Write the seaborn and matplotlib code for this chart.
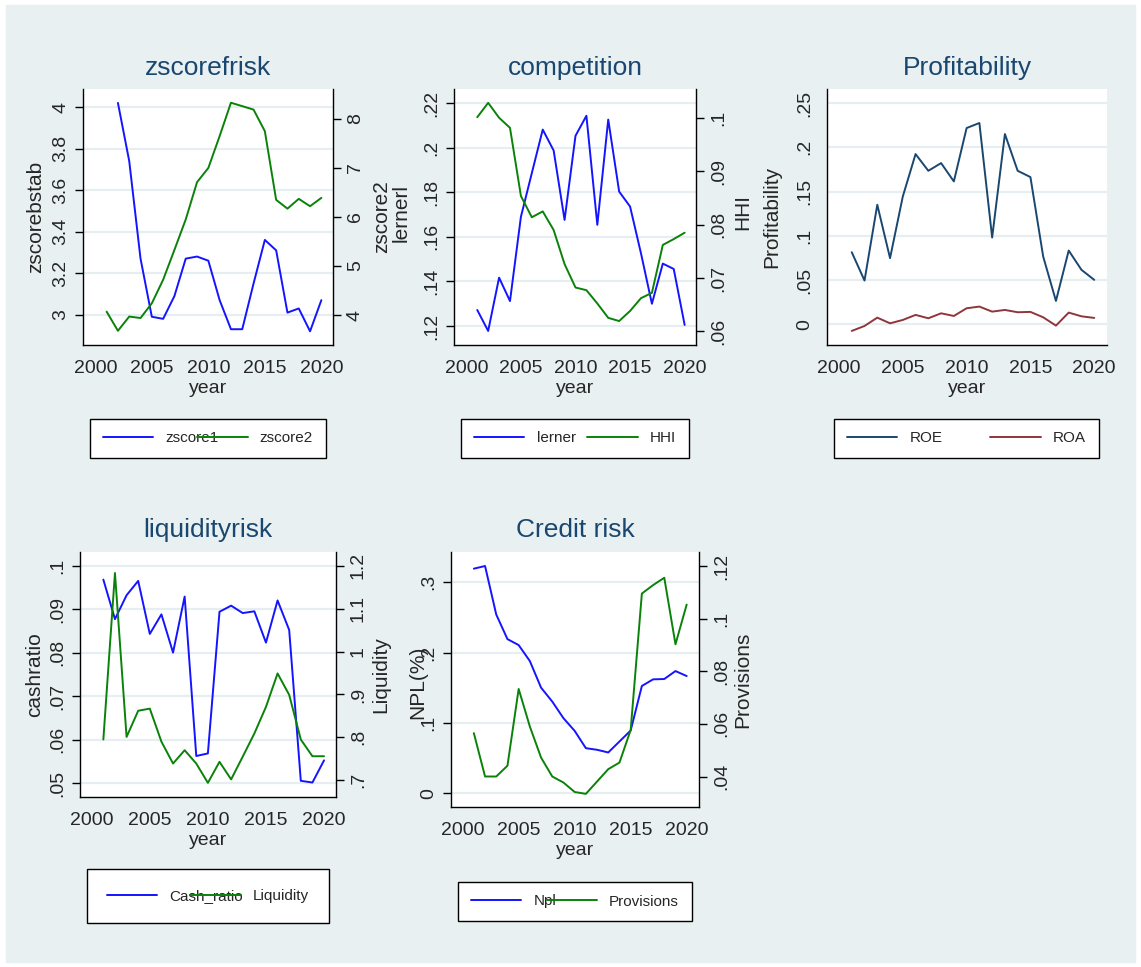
import numpy as np
import matplotlib
matplotlib.use("Agg")
import matplotlib.pyplot as plt
from matplotlib.patches import Rectangle
import seaborn as sns
import pandas as pd

# ---- data ----
years = list(range(2001, 2021))

zscore1 = [np.nan, 4.02, 3.74, 3.27, 2.99, 2.98, 3.09, 3.27, 3.28, 3.26,
           3.07, 2.93, 2.93, 3.15, 3.36, 3.31, 3.01, 3.03, 2.92, 3.07]
zscore2 = [4.07, 3.68, 3.97, 3.94, 4.24, 4.72, 5.33, 5.95, 6.71, 7.00,
           7.65, 8.33, 8.26, 8.19, 7.75, 6.35, 6.17, 6.37, 6.22, 6.39]

lerner = [.1272, .1178, .1417, .1312, .1690, .1886, .2081, .1987, .1676, .2053,
          .2143, .1654, .2126, .1803, .1736, .1526, .1300, .1480, .1456, .1205]
hhi = [.1002, .1029, .1001, .0982, .0854, .0814, .0825, .0790, .0726, .0682,
       .0677, .0652, .0625, .0619, .0638, .0662, .0672, .0762, .0773, .0785]

roe = [.0814, .0494, .1350, .0747, .1444, .1923, .1734, .1821, .1614, .2217,
       .2274, .0980, .2149, .1734, .1663, .0765, .0264, .0833, .0615, .0502]
roa = [-.0075, -.0019, .0075, .0011, .0049, .0106, .0068, .0124, .0094, .0181,
       .0200, .0143, .0162, .0136, .0140, .0079, -.0015, .0132, .0090, .0072]

cash_ratio = [.0968, .0877, .0932, .0965, .0843, .0888, .0800, .0929, .0562, .0568,
              .0894, .0908, .0891, .0895, .0823, .0920, .0852, .0505, .0501, .0552]
liquidity = [.795, 1.183, .801, .862, .867, .790, .739, .770, .739, .694,
             .743, .702, .755, .809, .871, .949, .899, .795, .756, .756]

npl = [.3193, .3231, .2541, .2192, .2107, .1880, .1502, .1304, .1068, .0888,
       .0642, .0619, .0581, .0737, .0893, .1526, .1620, .1625, .1738, .1667]
provisions = [.0565, .0400, .0400, .0441, .0733, .0590, .0472, .0400, .0377, .0341,
              .0334, .0381, .0428, .0453, .0577, .1096, .1128, .1156, .0903, .1054]

xticks = [2000, 2005, 2010, 2015, 2020]

# ---- style ----
sns.set_style("white")
plt.rcParams["font.family"] = ["Liberation Sans", "DejaVu Sans"]

BG = "#E8F0F2"
GRID = "#E6EEF1"
NAVY = "#1A476F"
BLUE = "#1414FF"
GREEN = "#0A820A"
MAROON = "#90353B"
TICK_FS = 14
LAB_FS = 15

W, H = 1141, 967
fig = plt.figure(figsize=(W / 100, H / 100), dpi=100, facecolor="white")
fig.patches.append(Rectangle((6 / W, 5 / H), 1129 / W, 957 / H,
                             transform=fig.transFigure, color=BG, zorder=-10))


def px_box(x0, y0, x1, y1):
    return [x0 / W, 1 - y1 / H, (x1 - x0) / W, (y1 - y0) / H]


def draw(ax, y, color, label):
    df = pd.DataFrame({"year": years, "v": y})
    sns.lineplot(data=df, x="year", y="v", ax=ax, color=color, lw=1.4,
                 label=label, legend=False)


def finish_left(ax, xlim, ylim, yticks, ylabels, ylab, ylab_x, ylab_y=0.5):
    ax.set_facecolor("white")
    ax.set_xlim(xlim)
    ax.set_ylim(ylim)
    ax.set_xticks(xticks)
    ax.set_xticklabels([str(t) for t in xticks])
    ax.set_yticks(yticks)
    ax.set_yticklabels(ylabels, rotation=90, va="center")
    ax.tick_params(axis="both", direction="out", length=6, width=1, color="black",
                   pad=4, labelsize=TICK_FS)
    ax.tick_params(axis="x", pad=5)
    ax.grid(axis="y", color=GRID, lw=1.6)
    ax.set_axisbelow(True)
    for s in ["top", "right"]:
        ax.spines[s].set_visible(False)
    for s in ["left", "bottom"]:
        ax.spines[s].set_color("black")
        ax.spines[s].set_linewidth(1)
    ax.set_xlabel("year", fontsize=14, labelpad=2)
    ax.set_ylabel(ylab, fontsize=LAB_FS)
    ax.yaxis.set_label_coords(ylab_x, ylab_y)


def finish_right(tw, ylim, yticks, ylabels, ylab, ylab_x, ylab_y=0.5):
    tw.set_ylim(ylim)
    tw.set_yticks(yticks)
    tw.set_yticklabels(ylabels, rotation=90, va="center")
    tw.tick_params(axis="y", direction="out", length=6, width=1, color="black",
                   pad=4, labelsize=TICK_FS)
    tw.grid(False)
    for s in ["top", "left", "bottom"]:
        tw.spines[s].set_visible(False)
    tw.spines["right"].set_color("black")
    tw.spines["right"].set_linewidth(1)
    tw.set_ylabel(ylab, fontsize=LAB_FS)
    tw.yaxis.set_label_coords(ylab_x, ylab_y)


def add_title(text, box, y):
    fig.text((box[0] + box[2]) / 2 / W, 1 - y / H, text, ha="center", va="center",
             fontsize=19, color=NAVY)


def add_legend(handles, labels, box, pad=0.85):
    fig.legend(handles, labels, loc="center", bbox_to_anchor=px_box(*box),
               bbox_transform=fig.transFigure, mode="expand", ncol=2,
               fontsize=11, frameon=True, fancybox=False, edgecolor="black",
               framealpha=1, handlelength=3.3, borderpad=pad, borderaxespad=0,
               columnspacing=2.5)


# ---- panel 1: zscorefrisk ----
b1 = (83, 89, 333, 345)
ax1 = fig.add_axes(px_box(*b1))
draw(ax1, zscore1, BLUE, "zscore1")
tw1 = ax1.twinx()
draw(tw1, zscore2, GREEN, "zscore2")
finish_left(ax1, (1998.91, 2021.03), (2.854, 4.087), [3, 3.2, 3.4, 3.6, 3.8, 4],
            ["3", "3.2", "3.4", "3.6", "3.8", "4"], "zscorebstab", -0.152)
finish_right(tw1, (3.39, 8.61), [4, 5, 6, 7, 8], ["4", "5", "6", "7", "8"],
             "zscore2", 1.155, 0.5)
add_title("zscorefrisk", b1, 68)
add_legend(ax1.get_lines()[:1] + tw1.get_lines()[:1], ["zscore1", "zscore2"],
           (90, 418, 326, 459))

# ---- panel 2: competition ----
b2 = (454, 89, 696, 345)
ax2 = fig.add_axes(px_box(*b2))
draw(ax2, lerner, BLUE, "lerner")
tw2 = ax2.twinx()
draw(tw2, hhi, GREEN, "HHI")
finish_left(ax2, (1998.87, 2021.04), (.1115, .2263), [.12, .14, .16, .18, .2, .22],
            [".12", ".14", ".16", ".18", ".2", ".22"], "lernerl", -0.18, 0.516)
finish_right(tw2, (.0574, .1055), [.06, .07, .08, .09, .1],
             [".06", ".07", ".08", ".09", ".1"], "HHI", 1.153, 0.52)
add_title("competition", b2, 68)
add_legend(ax2.get_lines()[:1] + tw2.get_lines()[:1], ["lerner", "HHI"],
           (461, 418, 689, 459))

# ---- panel 3: Profitability ----
b3 = (827, 89, 1107, 345)
ax3 = fig.add_axes(px_box(*b3))
draw(ax3, roe, NAVY, "ROE")
draw(ax3, roa, MAROON, "ROA")
finish_left(ax3, (1999.06, 2021.0), (-.0234, .2658), [0, .05, .1, .15, .2, .25],
            ["0", ".05", ".1", ".15", ".2", ".25"], "Profitability", -0.164)
add_title("Profitability", b3, 68)
add_legend(ax3.get_lines()[:2], ["ROE", "ROA"], (834, 418, 1099, 459))

# ---- panel 4: liquidityrisk ----
b4 = (80, 552, 336, 797)
ax4 = fig.add_axes(px_box(*b4))
draw(ax4, cash_ratio, BLUE, "Cash_ratio")
tw4 = ax4.twinx()
draw(tw4, liquidity, GREEN, "Liquidity")
finish_left(ax4, (1998.99, 2021.03), (.04677, .10315), [.05, .06, .07, .08, .09, .1],
            [".05", ".06", ".07", ".08", ".09", ".1"], "cashratio", -0.14)
finish_right(tw4, (.661, 1.232), [.7, .8, .9, 1, 1.1, 1.2],
             [".7", ".8", ".9", "1", "1.1", "1.2"], "Liquidity", 1.137, 0.5)
add_title("liquidityrisk", b4, 530)
add_legend(ax4.get_lines()[:1] + tw4.get_lines()[:1], ["Cash_ratio", "Liquidity"],
           (87, 870, 329, 922), pad=1.3)

# ---- panel 5: Credit risk ----
b5 = (451, 552, 699, 807)
ax5 = fig.add_axes(px_box(*b5))
draw(ax5, npl, BLUE, "Npl")
tw5 = ax5.twinx()
draw(tw5, provisions, GREEN, "Provisions")
finish_left(ax5, (1998.96, 2021.1), (-.0194, .343), [0, .1, .2, .3],
            ["0", ".1", ".2", ".3"], "NPL(%)", -0.097, 0.49)
finish_right(tw5, (.0284, .1254), [.04, .06, .08, .1, .12],
             [".04", ".06", ".08", ".1", ".12"], "Provisions", 1.137, 0.5)
add_title("Credit risk", b5, 530)
add_legend(ax5.get_lines()[:1] + tw5.get_lines()[:1], ["Npl", "Provisions"],
           (458, 881, 692, 922))

fig.savefig("out.png", dpi=100, facecolor="white")
